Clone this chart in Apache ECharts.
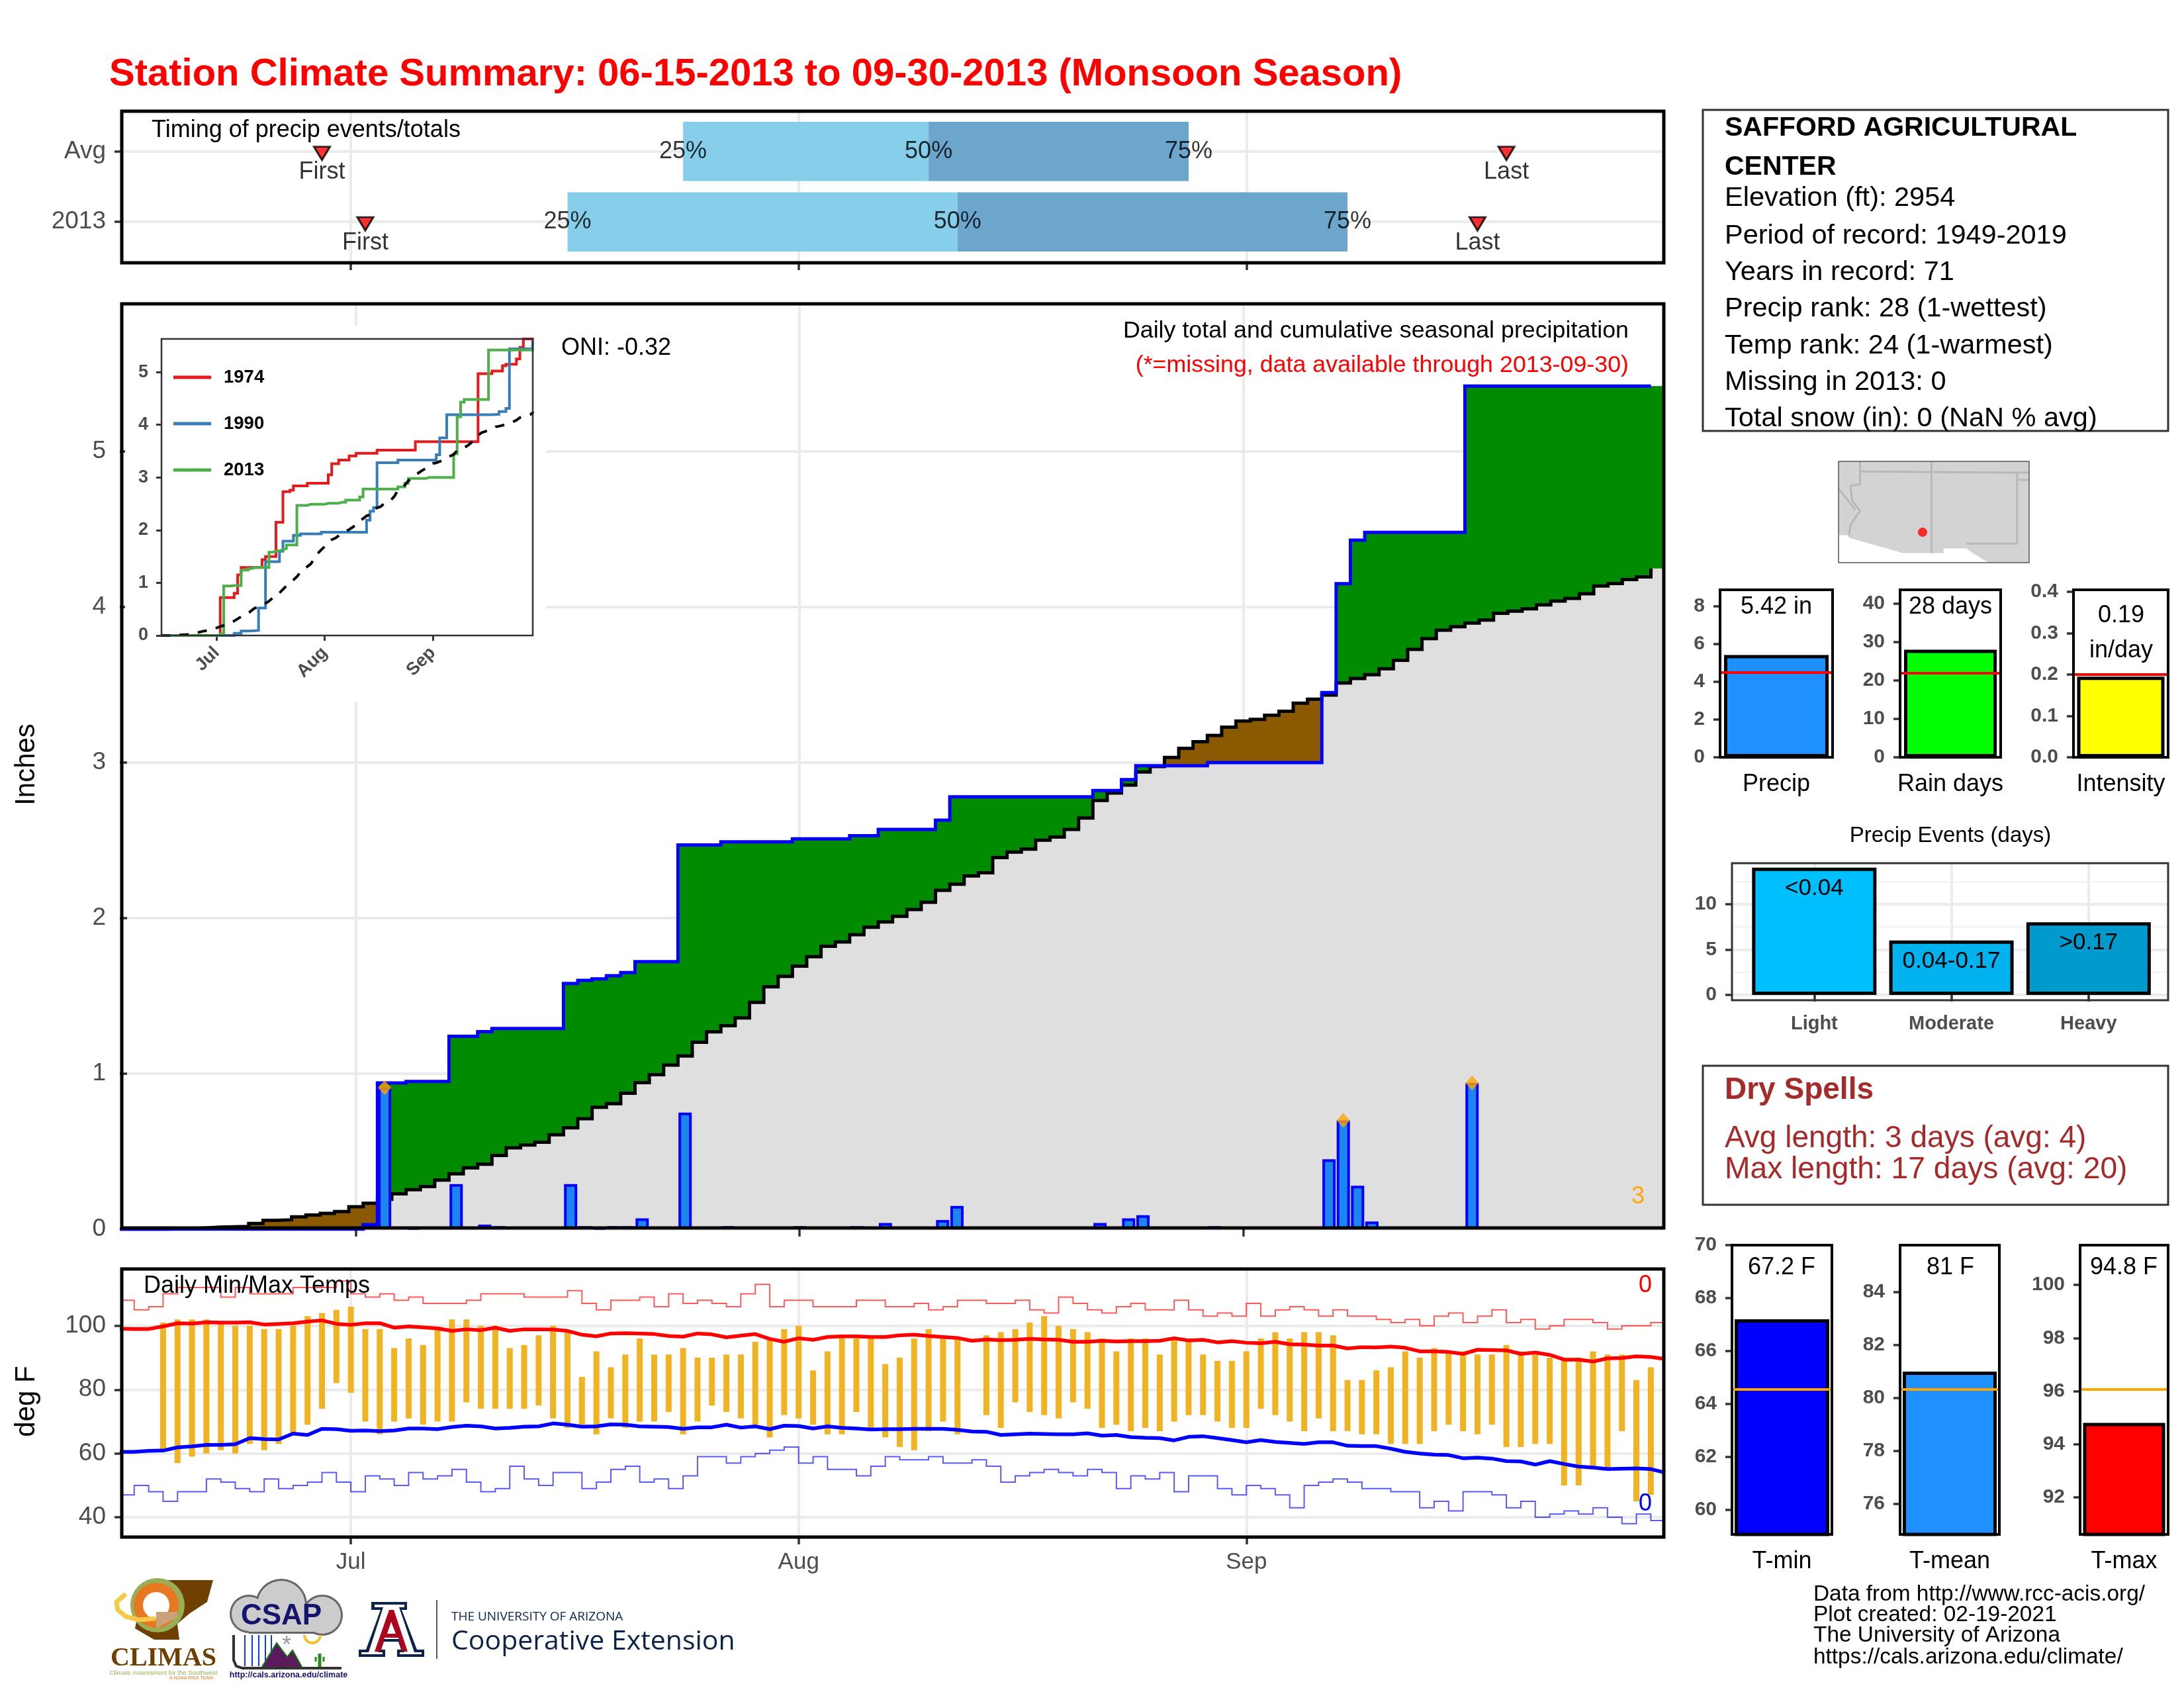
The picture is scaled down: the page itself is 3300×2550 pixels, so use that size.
<!DOCTYPE html>
<html>
<head>
<meta charset="utf-8">
<title>Station Climate Summary</title>
<script src="https://cdn.jsdelivr.net/npm/echarts@6/dist/echarts.min.js"></script>
<style>
html, body { margin: 0; padding: 0; background: #fff; }
#chart { width: 3300px; height: 2550px; }
</style>
</head>
<body>
<div id="chart"></div>
<script>
// day number = days since Jun 15 (0..107)
var monthDays = [16, 47, 78];
var monthNames = ['Jul', 'Aug', 'Sep'];

// daily rain 2013
var rainDays = [17, 18, 20, 23, 25, 26, 31, 32, 33, 34, 35, 36, 39, 42, 47, 51, 53, 57, 58, 68, 70, 71, 76, 84, 85, 86, 87, 94];
var rainAmounts = [0.03, 0.91, 0.01, 0.29, 0.03, 0.02, 0.29, 0.02, 0.01, 0.02, 0.02, 0.07, 0.75, 0.02, 0.02, 0.02, 0.04, 0.06, 0.15, 0.04, 0.07, 0.09, 0.02, 0.45, 0.70, 0.28, 0.05, 0.94];
var topRainDays = [18, 85, 94];

// average cumulative precip
var avgCum = [0, 0, 0, 0.002, 0.004, 0.008, 0.014, 0.016, 0.018, 0.037, 0.057, 0.061, 0.080, 0.092, 0.102, 0.114, 0.145, 0.167, 0.193, 0.228,
	0.254, 0.275, 0.316, 0.356, 0.395, 0.418, 0.475, 0.523, 0.542, 0.560, 0.607, 0.652, 0.711, 0.784, 0.807, 0.874, 0.943, 0.994, 1.055, 1.114,
	1.202, 1.269, 1.308, 1.359, 1.459, 1.559, 1.626, 1.691, 1.752, 1.819, 1.847, 1.894, 1.941, 1.976, 2.012, 2.055, 2.102, 2.179, 2.218, 2.271,
	2.291, 2.389, 2.424, 2.444, 2.501, 2.521, 2.570, 2.644, 2.756, 2.804, 2.855, 2.939, 2.974, 3.033, 3.091, 3.134, 3.174, 3.228, 3.267, 3.278,
	3.304, 3.330, 3.382, 3.408, 3.434, 3.512, 3.540, 3.565, 3.603, 3.658, 3.728, 3.797, 3.851, 3.873, 3.897, 3.916, 3.960, 3.973, 3.988, 4.014,
	4.038, 4.055, 4.085, 4.135, 4.151, 4.177, 4.194, 4.248];

// analog years for the inset, [day, cumulative]
var year1974 = [[0, 0], [17, 0.72], [21, 0.80], [22, 1.15], [23, 1.29], [29, 1.44], [30, 1.50], [33, 2.15], [35, 2.73], [37, 2.76], [38, 2.84], [42, 2.89], [48, 3.05], [49, 3.26], [51, 3.33], [54, 3.41], [56, 3.46], [62, 3.52], [73, 3.68], [91, 4.97], [95, 5.02], [98, 5.12], [99, 5.15], [102, 5.25], [103, 5.47], [104, 5.63], [107, 5.63]];
var year1990 = [[0, 0], [21, 0.04], [23, 0.085], [25, 0.095], [28, 0.52], [30, 1.40], [34, 1.60], [35, 1.79], [38, 1.90], [40, 1.93], [46, 1.96], [59, 2.19], [60, 2.36], [61, 2.43], [62, 3.28], [68, 3.33], [79, 3.43], [80, 3.75], [82, 4.19], [95, 4.20], [97, 4.25], [99, 4.31], [100, 5.44], [106.6, 5.44], [106.7, 5.6]];

// daily temps 2013
var tmaxObs = [null, null, null, 101, 102, 102, 102, 101, 100, 100, 99, 99, 100, 103, 104, 105, 106, 99, 99, 93, 96, 94, 99, 102, 102, 100, 100, 93, 94, 97,
	100, 98, 84, 92, 87, 91, 96, 91, 91, 93, 90, 90, 91, 91, 95, 96, 99, 100, 86, 92, 97, 96, 96, 88, 90, 96, 99, 96, 96, null,
	97, 98, 99, 101, 103, 100, 99, 98, 96, 92, 96, 96, 91, 96, 96, 91, 89, 89, 92, 96, 98, 96, 98, 98, 97, 83, 83, 86, 87, 92,
	90, 93, 92, 92, 91, 91, 94, 92, 91, 90, 89, 90, 92, 91, 91, 83, 87, null];
var tminObs = [null, null, null, 61, 57, 59, 60, 61, 60, 63, 61, 63, 66, 69, 74, 82, 79, 70, 66, 70, 71, 69, 70, 70, 76, 74, 74, 74, 74, 75,
	71, 68, 69, 66, 71, 68, 70, 70, 73, 66, 70, 75, 73, 71, 69, 65, 72, 71, 69, 66, 66, 73, 68, 65, 62, 61, 67, 70, 66, null,
	72, 68, 76, 73, 72, 71, 76, 74, 68, 69, 67, 68, 67, 70, 72, 72, 70, 68, 68, 74, 72, 70, 67, 71, 67, 67, 66, 66, 63, 63,
	63, 67, 69, 67, 66, 69, 62, 62, 63, 63, 50, 50, 55, 55, 67, 45, 47, null];

// daily records
var recordHigh = [108, 105, 106, 110, 112, 112, 112, 109, 112, 110, 110, 110, 112, 112, 112, 114, 110, 109, 110, 108, 109, 107, 107, 107, 108, 110, 110, 110, 109, 109,
	109, 111, 107, 105, 108, 108, 109, 106, 110, 107, 108, 107, 106, 110, 113, 106, 108, 108, 106, 106, 106, 108, 108, 106, 106, 107, 105, 106, 108, 108,
	107, 107, 108, 105, 104, 109, 107, 105, 104, 106, 107, 105, 105, 108, 105, 103, 104, 103, 107, 103, 105, 106, 105, 103, 105, 103, 103, 102, 101, 102,
	100, 103, 104, 101, 103, 105, 101, 102, 99, 100, 102, 102, 101, 99, 100, 100, 101, 101];
var recordLow = [47, 50, 48, 45, 48, 48, 52, 51, 49, 48, 52, 49, 50, 51, 54, 51, 48, 53, 52, 50, 54, 52, 53, 55, 51, 48, 49, 56, 52, 50,
	54, 54, 49, 51, 55, 56, 51, 52, 49, 53, 59, 59, 57, 59, 60, 61, 62, 57, 59, 55, 55, 53, 56, 59, 58, 58, 59, 57, 57, 58,
	56, 51, 53, 54, 55, 54, 53, 55, 54, 49, 53, 52, 54, 48, 53, 53, 49, 47, 50, 49, 47, 43, 50, 51, 52, 51, 49, 49, 48, 48,
	43, 45, 42, 48, 48, 47, 43, 45, 40, 41, 42, 41, 43, 40, 38, 41, 39, 39];

// daily normals
var normalHigh = [99.1, 99.0, 99.0, 99.8, 100.8, 100.7, 101.1, 101.0, 101.0, 101.1, 100.4, 100.6, 100.8, 101.3, 101.7, 100.6, 100.3, 100.8, 100.8, 99.4, 99.8, 99.5, 99.2, 98.4, 98.9, 98.6, 99.4, 98.4, 98.9, 98.9,
	98.8, 98.4, 97.2, 96.7, 97.6, 97.7, 97.6, 97.4, 96.8, 96.6, 97.6, 97.3, 96.4, 96.9, 97.4, 95.9, 95.0, 96.1, 95.6, 96.5, 96.7, 96.7, 96.5, 96.5, 97.0, 97.2, 96.8, 96.5, 96.2, 95.3,
	95.7, 95.5, 95.6, 95.9, 95.7, 95.6, 95.0, 95.0, 95.3, 95.1, 95.2, 95.2, 95.3, 96.1, 95.4, 95.6, 94.8, 95.2, 94.7, 94.5, 95.0, 94.2, 94.1, 93.8, 93.8, 92.9, 93.3, 93.2, 93.5, 93.1,
	92.0, 92.0, 91.8, 91.2, 92.5, 92.4, 92.3, 91.2, 91.6, 90.9, 89.4, 89.4, 88.8, 89.8, 89.9, 90.4, 90.2, 89.6];
var normalLow = [60.5, 60.5, 60.8, 60.9, 61.9, 62.2, 62.7, 62.7, 62.9, 64.8, 64.5, 64.4, 66.2, 65.8, 67.7, 67.6, 67.1, 67.2, 67.0, 67.2, 67.8, 67.8, 67.6, 68.3, 68.7, 68.5, 67.8, 68.0, 68.4, 68.5,
	69.4, 69.0, 68.4, 68.5, 69.1, 69.0, 68.5, 68.4, 68.3, 67.7, 68.2, 68.2, 69.0, 68.1, 68.5, 67.6, 68.7, 68.6, 67.8, 68.5, 68.0, 67.8, 67.5, 67.6, 67.6, 67.7, 67.7, 67.7, 67.4, 66.9,
	66.8, 65.8, 66.0, 66.2, 66.1, 66.0, 66.0, 66.3, 65.6, 65.8, 65.1, 64.9, 64.8, 64.1, 65.2, 65.4, 64.8, 64.2, 63.5, 64.2, 63.6, 63.3, 63.0, 63.5, 63.5, 62.4, 62.3, 62.3, 61.5, 60.5,
	60.0, 59.6, 59.5, 58.5, 58.7, 58.4, 57.6, 57.5, 56.5, 57.6, 56.7, 55.9, 55.6, 55.1, 55.2, 55.3, 55.1, 54.0];

// timing panel
var timingRows = ['2013', 'Avg'];
var quartileLabels = ['25%', '50%', '75%'];
var quartilesAvg = [39, 56, 74];
var quartiles2013 = [31, 58, 85];
var firstDays = [17, 14];
var lastDays = [94, 96];

// summary bars
var summaryNames = ['Precip', 'Rain days', 'Intensity'];
var summaryValues = [5.42, 28, 0.195];
var summaryAvgs = [4.5, 22, 0.205];
var tempNames = ['T-min', 'T-mean', 'T-max'];
var tempValues = [67.2, 81, 94.8];
var tempAvgs = [64.56, 80.33, 96.08];
var eventNames = ['Light', 'Moderate', 'Heavy'];
var eventCounts = [14, 6, 8];
var eventBins = ['<0.04', '0.04-0.17', '>0.17'];

// locator map, in map units
var mapLand = [[0, 170], [601, 170], [601, 0], [473, 0], [423, 16], [403, 24], [331, 24], [331, 16], [203, 16], [33, 42], [28, 46], [0, 46]];
var mapBorders = [
	[[68, 170], [68, 132], [38, 129], [43, 104], [68, 87], [38, 64], [33, 46]],
	[[68, 153], [563, 151], [601, 151]],
	[[293, 170], [293, 16]],
	[[563, 151], [563, 32], [403, 32]],
	[[563, 139], [601, 139]],
	[[0, 124], [53, 89]]
];
var stationPoint = [[265, 51]];

var FONT = '"Liberation Sans", Arial, sans-serif';
var GREY = '#4D4D4D';
var GRID = '#EBEBEB';

var cumObs = [];
(function() {
	var total = 0;
	for (var d = 0; d < avgCum.length; d++) {
		var k = rainDays.indexOf(d);
		if (k >= 0) total += rainAmounts[k];
		cumObs.push(+total.toFixed(2));
	}
})();

// line points sit half a day before the bars in the main panel
function shifted(arr) {
	return arr.map(function(v, d) { return [d - 0.5, v]; });
}
// the fill runs on to the panel edge
function fill(arr) {
	return shifted(arr).concat([[107.5, arr[arr.length - 1]]]);
}
function byDay(arr) {
	return arr.map(function(v, d) { return [d, v]; });
}

// panels [left, top, width, height]
var P = {
	timing: [184, 168, 2330, 229],
	main: [184, 459, 2330, 1398],
	inset: [244, 512, 561, 448],
	temp: [184, 1917, 2330, 405],
	s0: [2599, 891, 170, 253],
	s1: [2871, 891, 152, 253],
	s2: [3133, 891, 143, 253],
	events: [2617, 1304, 659, 207],
	t0: [2617, 1881, 151, 437],
	t1: [2871, 1881, 150, 437],
	t2: [3143, 1881, 133, 437],
	map: [2778, 697, 288, 153]
};
var gridNames = ['timing', 'main', 'inset', 'temp', 's0', 's1', 's2', 'events', 't0', 't1', 't2', 'map'];
var grids = gridNames.map(function(n) {
	var p = P[n];
	return { left: p[0], top: p[1], width: p[2], height: p[3], containLabel: false };
});

function axis(type, g, min, max, ticks, o) {
	o = o || {};
	var a = {
		type: type,
		gridIndex: g,
		min: min,
		max: max,
		z: o.z || 0,
		axisLine: { show: false },
		axisTick: {
			show: true,
			customValues: ticks,
			length: o.tickLen || 11,
			lineStyle: { color: '#333', width: o.tickWidth || 3.5 }
		},
		axisLabel: {
			show: o.label !== false,
			customValues: ticks,
			color: GREY,
			fontFamily: FONT,
			fontSize: o.size || 37,
			fontWeight: o.weight || 'normal',
			margin: o.margin || 24,
			rotate: o.rotate || 0,
			padding: o.pad ? [o.pad, 0, 0, 0] : 0,
			formatter: o.formatter || function(v) { return String(v); }
		},
		splitLine: { show: !!o.grid, lineStyle: { color: GRID, width: o.gridWidth || 4 } },
		splitArea: { show: false },
		minorTick: { show: false },
		minorSplitLine: { show: false }
	};
	return a;
}
function monthLabel(v) {
	return monthNames[monthDays.indexOf(v)];
}
function catAxis(g, names) {
	return {
		type: 'category',
		gridIndex: g,
		data: names,
		axisLine: { show: false },
		axisTick: { show: false },
		axisLabel: { color: '#000', fontFamily: FONT, fontSize: 36, margin: 23 }
	};
}

function boldAxis(g, min, max, ticks, formatter) {
	return axis('value', g, min, max, ticks, { size: 30, weight: 'bold', tickLen: 10, margin: 23, pad: 4, formatter: formatter });
}

var xAxes = [
	axis('value', 0, 0.14, 106.9, monthDays, { label: false, grid: true }),
	axis('value', 1, -0.37, 107.4, monthDays, { label: false, grid: true }),
	axis('value', 2, 0.14, 106.7, monthDays, { z: 3, size: 27, weight: 'bold', rotate: 45, tickLen: 8, tickWidth: 3, margin: 22, formatter: monthLabel }),
	axis('value', 3, 0.14, 106.9, monthDays, { grid: true, size: 35, margin: 21, formatter: monthLabel }),
	catAxis(4, [summaryNames[0]]),
	catAxis(5, [summaryNames[1]]),
	catAxis(6, [summaryNames[2]]),
	axis('value', 7, 0.4, 3.58, [1, 2, 3], { grid: true, size: 29, weight: 'bold', tickLen: 10, margin: 21, formatter: function(v) { return eventNames[v - 1]; } }),
	catAxis(8, [tempNames[0]]),
	catAxis(9, [tempNames[1]]),
	catAxis(10, [tempNames[2]]),
	{ type: 'value', gridIndex: 11, min: 0, max: 601, show: false }
];
var yAxes = [
	axis('value', 0, 0.42, 2.57, [1, 2], { grid: true, pad: 3, formatter: function(v) { return timingRows[v - 1]; } }),
	axis('value', 1, 0, 5.949, [0, 1, 2, 3, 4, 5], { grid: true, pad: 3 }),
	axis('value', 2, 0, 5.63, [0, 1, 2, 3, 4, 5], { z: 3, size: 27, weight: 'bold', tickLen: 8, tickWidth: 3, margin: 20, pad: 3 }),
	axis('value', 3, 33.8, 117.8, [40, 60, 80, 100], { grid: true, pad: 3 }),
	boldAxis(4, 0, 8.88, [0, 2, 4, 6, 8]),
	boldAxis(5, 0, 43.6, [0, 10, 20, 30, 40]),
	boldAxis(6, 0, 0.405, [0, 0.1, 0.2, 0.3, 0.4], function(v) { return v.toFixed(1); }),
	axis('value', 7, -0.58, 14.5, [0, 5, 10], { grid: true, size: 30, weight: 'bold', tickLen: 10, margin: 23, pad: 4 }),
	boldAxis(8, 59.07, 70, [60, 62, 64, 66, 68, 70]),
	boldAxis(9, 74.85, 85.78, [76, 78, 80, 82, 84]),
	boldAxis(10, 90.6, 101.5, [92, 94, 96, 98, 100]),
	{ type: 'value', gridIndex: 11, min: 0, max: 170, show: false }
];

function stepArea(name, data, color) {
	return {
		name: name, type: 'line', xAxisIndex: 1, yAxisIndex: 1, data: data, step: 'end', showSymbol: false,
		lineStyle: { width: 0 }, areaStyle: { color: color, opacity: 1 }, z: 2
	};
}
function stepLine(name, data, color, width, xi, z) {
	return {
		name: name, type: 'line', xAxisIndex: xi, yAxisIndex: xi, data: data, step: 'end', showSymbol: false,
		itemStyle: { color: color },
		lineStyle: { color: color, width: width, join: 'miter' }, z: z
	};
}
function plainLine(name, data, color, width) {
	return {
		name: name, type: 'line', xAxisIndex: 3, yAxisIndex: 3, data: data, showSymbol: false,
		lineStyle: { color: color, width: width }, z: 4
	};
}
function summaryBar(g, value, avg, color, avgColor, barWidth) {
	return {
		type: 'bar', xAxisIndex: g, yAxisIndex: g, data: [value], barWidth: barWidth,
		itemStyle: { color: color, borderColor: '#000', borderWidth: 5 },
		z: 2,
		markLine: {
			silent: true, symbol: 'none', label: { show: false }, animation: false,
			lineStyle: { color: avgColor, width: 4, type: 'solid' },
			data: [{ yAxis: avg }]
		}
	};
}

var lowerEnvelope = avgCum.map(function(v, d) { return Math.min(v, cumObs[d]); });
var rainPoints = rainDays.map(function(d, k) { return [d, rainAmounts[k]]; });
var topPoints = topRainDays.map(function(d) { return [d, rainAmounts[rainDays.indexOf(d)]]; });
var tempRanges = [];
tmaxObs.forEach(function(v, d) {
	if (v !== null) tempRanges.push([d, tminObs[d], v]);
});
var timingBars = [
	[quartiles2013[0], quartiles2013[1], 1, '#87CEEB'], [quartiles2013[1], quartiles2013[2], 1, '#6CA6CD'],
	[quartilesAvg[0], quartilesAvg[1], 2, '#87CEEB'], [quartilesAvg[1], quartilesAvg[2], 2, '#6CA6CD']
];
var quartilePoints = [];
[quartiles2013, quartilesAvg].forEach(function(q, r) {
	q.forEach(function(d, k) { quartilePoints.push([d, r + 1, quartileLabels[k]]); });
});
var eventPoints = eventCounts.map(function(v, k) { return [k + 1, v]; });
var eventColors = ['#00BFFF', '#00B2EE', '#009ACD'];

var series = [
	// timing
	{
		type: 'custom', xAxisIndex: 0, yAxisIndex: 0, data: timingBars, z: 2,
		renderItem: function(params, api) {
			var a = api.coord([api.value(0), api.value(2)]);
			var b = api.coord([api.value(1), api.value(2)]);
			var h = api.size([0, 0.84])[1];
			return { type: 'rect', shape: { x: a[0], y: a[1] - h / 2, width: b[0] - a[0], height: h }, style: { fill: timingBars[params.dataIndex][3] } };
		}
	},
	{
		type: 'scatter', xAxisIndex: 0, yAxisIndex: 0, symbolSize: 0, z: 3, data: quartilePoints,
		label: { show: true, position: 'inside', color: '#000', fontFamily: FONT, fontSize: 36, formatter: function(p) { return p.value[2]; } }
	},
	{
		type: 'scatter', xAxisIndex: 0, yAxisIndex: 0, z: 4,
		symbol: 'triangle', symbolRotate: 180, symbolSize: [24, 20], symbolOffset: [0, 3],
		itemStyle: { color: '#f00', borderColor: '#000', borderWidth: 3 },
		label: { show: true, position: 'bottom', distance: 0, offset: [0, -1], color: '#000', fontFamily: FONT, fontSize: 36, formatter: 'First' },
		data: firstDays.map(function(d, r) { return [d, r + 1]; })
	},
	{
		type: 'scatter', xAxisIndex: 0, yAxisIndex: 0, z: 4,
		symbol: 'triangle', symbolRotate: 180, symbolSize: [24, 20], symbolOffset: [0, 3],
		itemStyle: { color: '#f00', borderColor: '#000', borderWidth: 3 },
		label: { show: true, position: 'bottom', distance: 0, offset: [0, -1], color: '#000', fontFamily: FONT, fontSize: 36, formatter: 'Last' },
		data: lastDays.map(function(d, r) { return [d, r + 1]; })
	},
	// main precip
	stepArea('above', fill(cumObs), '#008B00'),
	stepArea('below', fill(avgCum), '#8B5A00'),
	stepArea('common', fill(lowerEnvelope), '#DFDFDF'),
	stepLine('avg', shifted(avgCum), '#000', 5, 1, 3),
	stepLine('obs', shifted(cumObs), '#0000FF', 5, 1, 3),
	{
		type: 'bar', xAxisIndex: 1, yAxisIndex: 1, data: rainPoints, barWidth: 20, z: 4,
		itemStyle: { color: '#1C86EE', borderColor: '#0000FF', borderWidth: 4 }
	},
	{
		type: 'scatter', xAxisIndex: 1, yAxisIndex: 1, data: topPoints, z: 5, symbol: 'diamond', symbolSize: [20, 22],
		itemStyle: { color: '#FFA500' }
	},
	// inset
	stepLine('1974', year1974, '#E41A1C', 4, 2, 4),
	stepLine('1990', year1990, '#377EB8', 4, 2, 4),
	stepLine('2013', byDay(cumObs), '#4DAF4A', 4, 2, 4),
	{
		name: 'avg inset', type: 'line', xAxisIndex: 2, yAxisIndex: 2, data: byDay(avgCum), showSymbol: false, z: 5,
		lineStyle: { color: '#000', width: 4, type: [14, 14] }
	},
	// temps
	stepLine('record high', byDay(recordHigh), 'rgba(255,0,0,0.65)', 2, 3, 2),
	stepLine('record low', byDay(recordLow), 'rgba(0,0,255,0.65)', 2, 3, 2),
	{
		type: 'custom', xAxisIndex: 3, yAxisIndex: 3, data: tempRanges, z: 3,
		renderItem: function(params, api) {
			var hi = api.coord([api.value(0), api.value(2)]);
			var lo = api.coord([api.value(0), api.value(1)]);
			return { type: 'rect', shape: { x: hi[0] - 4.5, y: hi[1], width: 9, height: lo[1] - hi[1] }, style: { fill: '#F0B323' } };
		}
	},
	plainLine('normal high', byDay(normalHigh), '#FF0000', 5.5),
	plainLine('normal low', byDay(normalLow), '#0000FF', 5.5),
	// summary bars
	summaryBar(4, summaryValues[0], summaryAvgs[0], '#1E90FF', '#f00', 158),
	summaryBar(5, summaryValues[1], summaryAvgs[1], '#00FF00', '#f00', 140),
	summaryBar(6, summaryValues[2], summaryAvgs[2], '#FFFF00', '#f00', 132),
	summaryBar(8, tempValues[0], tempAvgs[0], '#0000FF', '#FFA500', 143),
	summaryBar(9, tempValues[1], tempAvgs[1], '#1E90FF', '#FFA500', 142),
	summaryBar(10, tempValues[2], tempAvgs[2], '#FF0000', '#FFA500', 124),
	// precip events
	{
		type: 'line', xAxisIndex: 7, yAxisIndex: 7, data: [[1, 0]], showSymbol: false, z: 1, lineStyle: { width: 0 },
		markLine: {
			silent: true, symbol: 'none', label: { show: false }, animation: false, z: 1,
			lineStyle: { color: '#F2F2F2', width: 2, type: 'solid' },
			data: [{ yAxis: 2.5 }, { yAxis: 7.5 }, { yAxis: 12.5 }]
		}
	},
	{
		type: 'bar', xAxisIndex: 7, yAxisIndex: 7, data: eventPoints, barWidth: 188, z: 2,
		itemStyle: { color: function(p) { return eventColors[p.dataIndex]; }, borderColor: '#000', borderWidth: 5 },
		label: {
			show: true, position: 'insideTop', distance: 14, color: '#000', fontFamily: FONT, fontSize: 35,
			formatter: function(p) { return eventBins[p.dataIndex]; }
		}
	},
	// locator map
	{
		type: 'custom', xAxisIndex: 11, yAxisIndex: 11, data: [[0, 0]], z: 2,
		renderItem: function(params, api) {
			return { type: 'polygon', shape: { points: mapLand.map(function(p) { return api.coord(p); }) }, style: { fill: '#D3D3D3' } };
		}
	},
	{
		type: 'custom', xAxisIndex: 11, yAxisIndex: 11, data: mapBorders.map(function(b, i) { return [i, 0]; }), z: 3,
		renderItem: function(params, api) {
			return {
				type: 'polyline',
				shape: { points: mapBorders[params.dataIndex].map(function(p) { return api.coord(p); }) },
				style: { fill: null, stroke: '#B8B8B8', lineWidth: 3 }
			};
		}
	},
	{
		type: 'scatter', xAxisIndex: 11, yAxisIndex: 11, data: stationPoint, symbolSize: 14, z: 4, itemStyle: { color: '#f00' }
	}
];

// text and frames
var els = [];
function text(x, y, s, size, o) {
	o = o || {};
	els.push({
		type: 'text', x: x, y: o.rotation ? y : y + 3, rotation: o.rotation || 0, z: 30, silent: true,
		style: {
			text: s, x: 0, y: 0, fill: o.color || '#000', fontFamily: o.family || FONT, fontSize: size,
			fontWeight: o.weight || 'normal', align: o.align || 'left', verticalAlign: 'middle'
		}
	});
}
function frame(p, color, width, z) {
	els.push({
		type: 'rect', z: z || 20, silent: true,
		shape: { x: p[0], y: p[1], width: p[2], height: p[3] },
		style: { fill: 'none', stroke: color, lineWidth: width }
	});
}
function poly(points, color, z) {
	els.push({ type: 'polygon', z: z || 25, silent: true, shape: { points: points }, style: { fill: color } });
}
function pline(points, color, w, z) {
	els.push({ type: 'polyline', z: z || 25, silent: true, shape: { points: points }, style: { fill: null, stroke: color, lineWidth: w } });
}
function disc(cx, cy, r, color, z) {
	els.push({ type: 'circle', z: z || 25, silent: true, shape: { cx: cx, cy: cy, r: r }, style: { fill: color } });
}
function seg(x1, y1, x2, y2, color, w) {
	els.push({ type: 'line', z: 25, silent: true, shape: { x1: x1, y1: y1, x2: x2, y2: y2 }, style: { stroke: color, lineWidth: w } });
}

// white backing of the inset hides the main gridlines
els.push({ type: 'rect', z: 1, silent: true, shape: { x: 189, y: 492, width: 636, height: 568 }, style: { fill: '#fff' } });

frame(P.timing, '#000', 5);
frame([184, 459, 2330, 1396], '#000', 5);
frame(P.inset, '#333', 2.5);
frame(P.temp, '#000', 5);
['s0', 's1', 's2', 't0', 't1', 't2'].forEach(function(n) { frame(P[n], '#000', 4); });
frame(P.events, '#333', 3);
frame(P.map, '#555', 1.5);
frame([2573, 166, 703, 485], '#333', 3);
frame([2573, 1610, 703, 210], '#333', 3);

text(165, 110, 'Station Climate Summary: 06-15-2013 to 09-30-2013 (Monsoon Season)', 58, { color: '#f00', weight: 'bold' });
text(229, 194, 'Timing of precip events/totals', 36);
text(848, 523, 'ONI: -0.32', 36);
text(2461, 497, 'Daily total and cumulative seasonal precipitation', 35.8, { align: 'right' });
text(2461, 549, '(*=missing, data available through 2013-09-30)', 35.8, { align: 'right', color: '#f00' });
text(2475, 1805, '3', 36, { align: 'center', color: '#FFA500' });
text(217, 1940, 'Daily Min/Max Temps', 36);
text(2486, 1939, '0', 36, { align: 'center', color: '#f00' });
text(2486, 2269, '0', 36, { align: 'center', color: '#00f' });
text(40, 1155, 'Inches', 42, { align: 'center', rotation: Math.PI / 2 });
text(40, 2117, 'deg F', 42, { align: 'center', rotation: Math.PI / 2 });

// station box
text(2606, 191, 'SAFFORD AGRICULTURAL', 41, { weight: 'bold' });
text(2606, 250, 'CENTER', 41, { weight: 'bold' });
text(2606, 297, 'Elevation (ft): 2954', 41.5);
text(2606, 354, 'Period of record: 1949-2019', 41.5);
text(2606, 409, 'Years in record: 71', 41.5);
text(2606, 464, 'Precip rank: 28 (1-wettest)', 41.5);
text(2606, 520, 'Temp rank: 24 (1-warmest)', 41.5);
text(2606, 575, 'Missing in 2013: 0', 41.5);
text(2606, 630, 'Total snow (in): 0 (NaN % avg)', 41.5);

// summary values
text(2684, 914, '5.42 in', 36, { align: 'center' });
text(2947, 914, '28 days', 36, { align: 'center' });
text(3205, 927, '0.19', 36, { align: 'center' });
text(3205, 980, 'in/day', 36, { align: 'center' });
text(2947, 1260, 'Precip Events (days)', 33, { align: 'center' });
text(2692, 1912, '67.2 F', 36, { align: 'center' });
text(2947, 1912, '81 F', 36, { align: 'center' });
text(3209, 1912, '94.8 F', 36, { align: 'center' });

// dry spells
text(2606, 1644, 'Dry Spells', 46, { weight: 'bold', color: '#A52A2A' });
text(2606, 1717, 'Avg length: 3 days (avg: 4)', 46, { color: '#A52A2A' });
text(2606, 1764, 'Max length: 17 days (avg: 20)', 46.2, { color: '#A52A2A' });

// credits
text(2740, 2406, 'Data from http://www.rcc-acis.org/', 33.4);
text(2740, 2437, 'Plot created: 02-19-2021', 33.4);
text(2740, 2468, 'The University of Arizona', 33.4);
text(2740, 2501, 'https://cals.arizona.edu/climate/', 33.4);

// CLIMAS logo
poly([[246, 2387], [322, 2387], [313, 2420], [287, 2437], [268, 2453], [271, 2477], [233, 2477], [204, 2460], [216, 2400]], '#6F3F00');
disc(238, 2425, 41, '#9AAE55');
disc(236, 2425, 34, '#E87722');
disc(236, 2425, 20, '#fff');
pline([[190, 2408], [176, 2420], [178, 2432], [190, 2442], [210, 2447], [235, 2445]], '#F7C948', 7);
poly([[236, 2435], [268, 2435], [268, 2443], [236, 2460]], '#C9A27A');
text(247, 2503, 'CLIMAS', 40, { align: 'center', color: '#6F3F00', weight: 'bold', family: '"Liberation Serif", serif' });
text(247, 2524, 'Climate Assessment for the Southwest', 9.5, { align: 'center', color: '#9AAE55' });
text(322, 2532, 'A NOAA RISA TEAM', 7, { align: 'right', color: '#E87722' });

// CSAP logo
[[376, 2438, 26], [425, 2424, 36], [487, 2440, 28]].forEach(function(c) { disc(c[0], c[1], c[2] + 3, '#666'); });
els.push({ type: 'rect', z: 25, silent: true, shape: { x: 376, y: 2430, width: 111, height: 38 }, style: { fill: '#666' } });
[[376, 2438, 26], [425, 2424, 36], [487, 2440, 28]].forEach(function(c) { disc(c[0], c[1], c[2], '#CCCCCC', 26); });
els.push({ type: 'rect', z: 26, silent: true, shape: { x: 376, y: 2430, width: 111, height: 35 }, style: { fill: '#CCCCCC' } });
text(425, 2439, 'CSAP', 44, { align: 'center', color: '#14146E', weight: 'bold' });
[370, 381, 391, 401, 410].forEach(function(x) { seg(x, 2470, x, 2517, '#0A3CE0', 2); });
pline([[353, 2470], [353, 2508], [357, 2517], [366, 2520], [516, 2520]], '#333', 4);
poly([[396, 2518], [418, 2482], [434, 2503], [442, 2493], [456, 2518]], '#5B1A5B');
pline([[396, 2518], [418, 2482], [434, 2503], [442, 2493], [456, 2518]], '#0A7A0A', 2);
text(433, 2484, '*', 36, { align: 'center', color: '#999' });
els.push({ type: 'arc', z: 25, silent: true, shape: { cx: 472, cy: 2470, r: 12, startAngle: 0, endAngle: Math.PI, clockwise: true }, style: { fill: null, stroke: '#F2C230', lineWidth: 4 } });
seg(483, 2498, 483, 2518, '#2E8B22', 5);
seg(477, 2503, 477, 2510, '#2E8B22', 3);
seg(489, 2503, 489, 2510, '#2E8B22', 3);
text(436, 2528, 'http://cals.arizona.edu/climate', 12.5, { align: 'center', color: '#14146E', weight: 'bold' });

// Arizona logo
poly([[561, 2420], [615, 2420], [615, 2432], [607, 2432], [630, 2492], [641, 2492], [641, 2503], [600, 2503], [600, 2492], [606, 2492], [602, 2480], [580, 2480], [576, 2492], [582, 2492], [582, 2503], [542, 2503], [542, 2492], [553, 2492], [575, 2432], [561, 2432]], '#0C234B');
poly([[566, 2424], [611, 2424], [611, 2428], [603, 2428], [626, 2496], [637, 2496], [637, 2499], [604, 2499], [604, 2496], [611, 2496], [605, 2476], [577, 2476], [571, 2496], [578, 2496], [578, 2499], [546, 2499], [546, 2496], [557, 2496], [579, 2428], [566, 2428]], '#fff', 26);
poly([[588, 2432], [595, 2432], [616, 2495], [607, 2495], [602, 2474], [581, 2474], [575, 2495], [566, 2495]], '#AB0520', 27);
poly([[591, 2450], [598, 2468], [585, 2468]], '#fff', 28);
seg(660, 2417, 660, 2506, '#0C234B', 1.5);
text(682, 2440, 'THE UNIVERSITY OF ARIZONA', 19, { color: '#0C234B', family: '"Open Sans", sans-serif' });
text(682, 2477, 'Cooperative Extension', 41, { color: '#0C234B', family: '"Open Sans", sans-serif' });

var chart = echarts.init(document.getElementById('chart'), null, { renderer: 'canvas', width: 3300, height: 2550 });
chart.setOption({
	animation: false,
	backgroundColor: '#fff',
	grid: grids,
	xAxis: xAxes,
	yAxis: yAxes,
	series: series,
	legend: {
		left: 257, top: 551, orient: 'vertical', selectedMode: false, z: 6,
		data: ['1974', '1990', '2013'],
		icon: 'rect',
		itemWidth: 57, itemHeight: 5, itemGap: 42,
		textStyle: { color: '#000', fontFamily: FONT, fontSize: 27.5, fontWeight: 'bold', padding: [0, 0, 0, 14] }
	},
	graphic: { elements: els }
});
</script>
</body>
</html>
